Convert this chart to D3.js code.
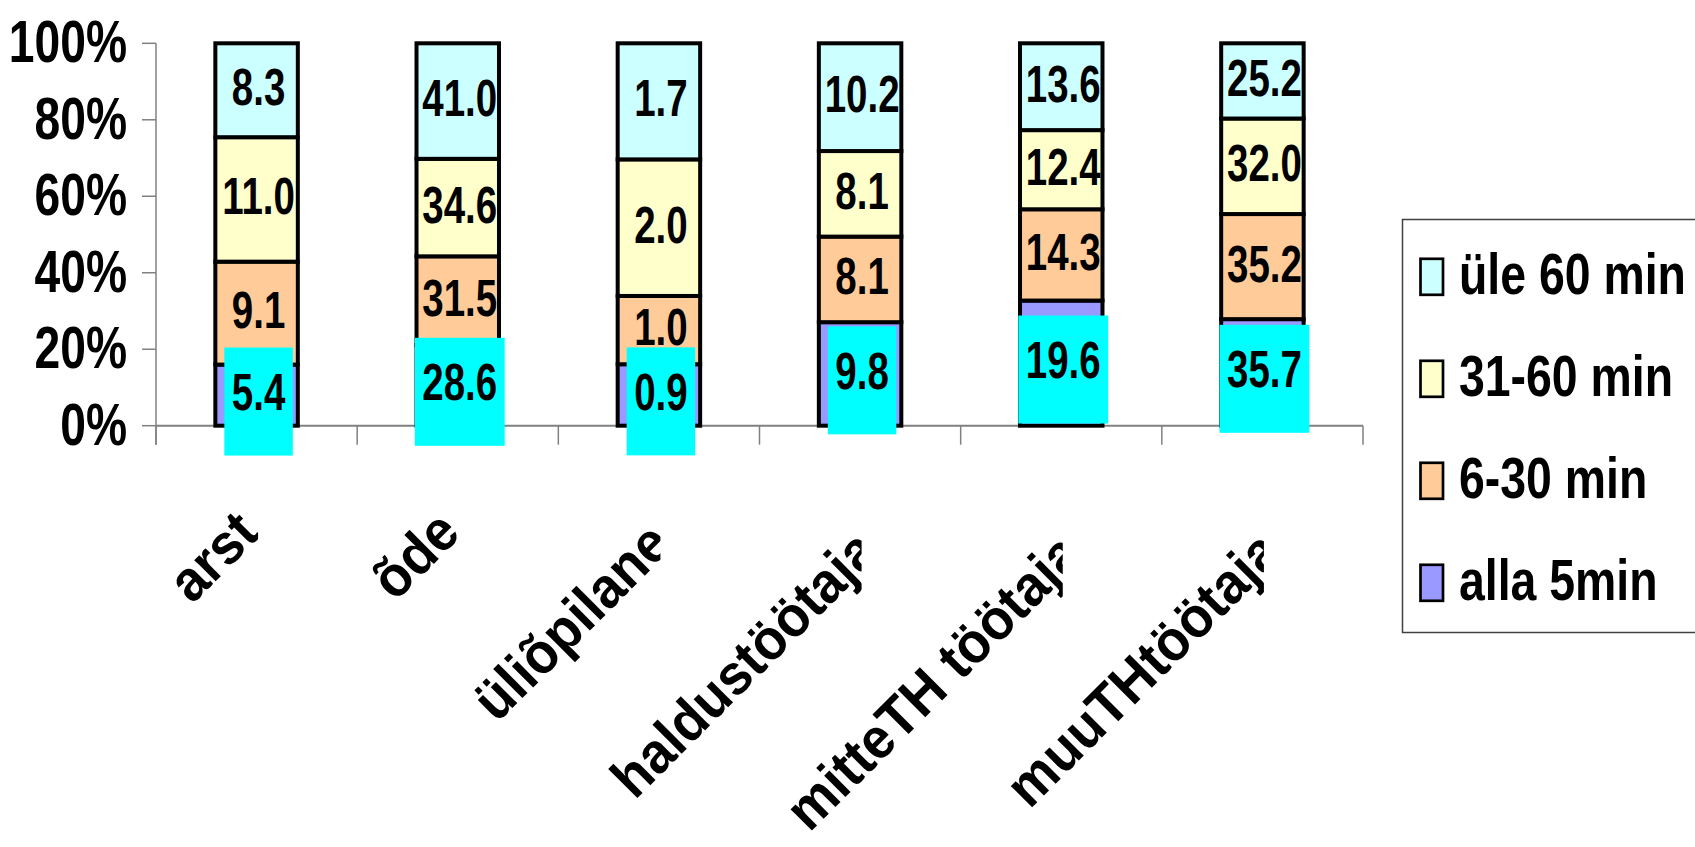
<!DOCTYPE html>
<html><head><meta charset="utf-8">
<script src="https://cdn.jsdelivr.net/npm/d3@7"></script>
<style>html,body{margin:0;padding:0;background:#fff;}svg{display:block;}</style>
</head><body>
<svg id="chart" width="1695" height="847"></svg>
<script>
// ---- data ----
const categories = ["arst", "õde", "üliõpilane", "haldustöötaja", "mitteTH töötaja", "muuTHtöötaja"];
const seriesNames = ["alla 5min", "6-30 min", "31-60 min", "üle 60 min"];
const alla5 = [5.4, 28.6, 0.9, 9.8, 19.6, 35.7];
const min6to30 = [9.1, 31.5, 1.0, 8.1, 14.3, 35.2];
const min31to60 = [11.0, 34.6, 2.0, 8.1, 12.4, 32.0];
const ule60 = [8.3, 41.0, 1.7, 10.2, 13.6, 25.2];
const yTicks = [0, 0.2, 0.4, 0.6, 0.8, 1.0];

// ---- style ----
const colors = ["#9999FF", "#FFCC99", "#FFFFCC", "#CCFFFF"];
const FONT = "'Liberation Sans', Arial, sans-serif";
const SQ = 0.74; // horizontal squeeze of straight text

const svg = d3.select("#chart");
svg.append("rect").attr("width", 1695).attr("height", 847).attr("fill", "#fff");

const seriesArrays = [alla5, min6to30, min31to60, ule60];
const table = categories.map((c, i) => {
  const row = { cat: c };
  seriesNames.forEach((s, k) => row[s] = seriesArrays[k][i]);
  return row;
});

const x = d3.scaleBand().domain(categories).range([156, 1363]).paddingInner(0.59).paddingOuter(0.295);
const y = d3.scaleLinear().domain([0, 1]).range([425.7, 43.3]);
const step = x.step();

const stacked = d3.stack().keys(seriesNames).offset(d3.stackOffsetExpand)(table);

// axes
const axisG = svg.append("g");
axisG.append("line").attr("x1", x.range()[0]).attr("x2", x.range()[0])
  .attr("y1", y(1)).attr("y2", y(0) + 19).attr("stroke", "#808080").attr("stroke-width", 1.5);
axisG.append("line").attr("x1", x.range()[0]).attr("x2", x.range()[1])
  .attr("y1", y(0)).attr("y2", y(0)).attr("stroke", "#808080").attr("stroke-width", 2);
yTicks.forEach(t => {
  axisG.append("line").attr("x1", x.range()[0] - 14).attr("x2", x.range()[0])
    .attr("y1", y(t)).attr("y2", y(t)).attr("stroke", "#808080").attr("stroke-width", 1.5);
  axisG.append("text").attr("transform", `translate(${x.range()[0] - 29},${y(t) + 19}) scale(0.77,1)`)
    .attr("text-anchor", "end").attr("font-family", FONT).attr("font-weight", "bold")
    .attr("font-size", 60).attr("fill", "#000").text(d3.format(".0%")(t));
});
d3.range(categories.length + 1).forEach(i => {
  const xx = x.range()[0] + i * step;
  axisG.append("line").attr("x1", xx).attr("x2", xx).attr("y1", y(0)).attr("y2", y(0) + 19)
    .attr("stroke", "#808080").attr("stroke-width", 1.5);
});

// bars
const barG = svg.append("g");
stacked.forEach((layer, k) => {
  barG.selectAll(null).data(layer).enter().append("rect")
    .attr("x", d => x(d.data.cat))
    .attr("width", x.bandwidth())
    .attr("y", d => y(d[1]))
    .attr("height", d => y(d[0]) - y(d[1]))
    .attr("fill", colors[k])
    .attr("stroke", "#000").attr("stroke-width", 4);
});

// value labels
const labG = svg.append("g");
stacked.forEach((layer, k) => {
  layer.forEach(d => {
    const cx = x(d.data.cat) + x.bandwidth() / 2 + 2;
    const cy = (y(d[0]) + y(d[1])) / 2 - 3.6;
    const val = d.data[layer.key].toFixed(1);
    const g = labG.append("g");
    const t = g.append("text")
      .attr("transform", `translate(${cx},${cy + 18.6}) scale(${SQ},1)`)
      .attr("text-anchor", "middle").attr("font-family", FONT).attr("font-weight", "bold")
      .attr("font-size", 52).attr("fill", "#000").text(val);
    if (k === 0) {
      const w = t.node().getComputedTextLength() * SQ + 15;
      g.insert("rect", "text").attr("x", cx - w / 2).attr("width", w)
        .attr("y", cy - 44).attr("height", 108).attr("fill", "#00FFFF");
    }
  });
});

// category labels (rotated, clipped at the category centre)
const defs = svg.append("defs");
const catG = svg.append("g");
categories.forEach((c, i) => {
  const center = x(c) + x.bandwidth() / 2;
  defs.append("clipPath").attr("id", "clip" + i).append("rect")
    .attr("x", 0).attr("y", y(0) + 20).attr("width", center + 1.5).attr("height", 847);
  const wrap = catG.append("g").attr("clip-path", `url(#clip${i})`);
  const t = wrap.append("text")
    .attr("text-anchor", "end").attr("font-family", FONT).attr("font-weight", "bold")
    .attr("font-size", 57).attr("fill", "#000").text(c);
  const len = t.node().getComputedTextLength();
  const ex = center - 1.5 + 0.0604 * len;
  const ey = 528 + 0.0716 * len;
  t.attr("transform", `translate(${ex},${ey}) rotate(-45) scale(0.94,1)`);
});

// legend
const legG = svg.append("g");
legG.append("rect").attr("x", 1402.5).attr("y", 219.5).attr("width", 400).attr("height", 413)
  .attr("fill", "#fff").attr("stroke", "#404040").attr("stroke-width", 1.5);
const legendOrder = seriesNames.slice().reverse();
legendOrder.forEach((s, j) => {
  const base = 294.3 + j * 102;
  const k = seriesNames.indexOf(s);
  legG.append("rect").attr("x", 1420.5).attr("y", base - 35.5).attr("width", 22.5).attr("height", 36)
    .attr("fill", colors[k]).attr("stroke", "#000").attr("stroke-width", 2.7);
  legG.append("text").attr("transform", `translate(1459,${base}) scale(0.8,1)`)
    .attr("font-family", FONT).attr("font-weight", "bold").attr("font-size", 58)
    .attr("fill", "#000").text(s);
});
</script>
</body></html>
